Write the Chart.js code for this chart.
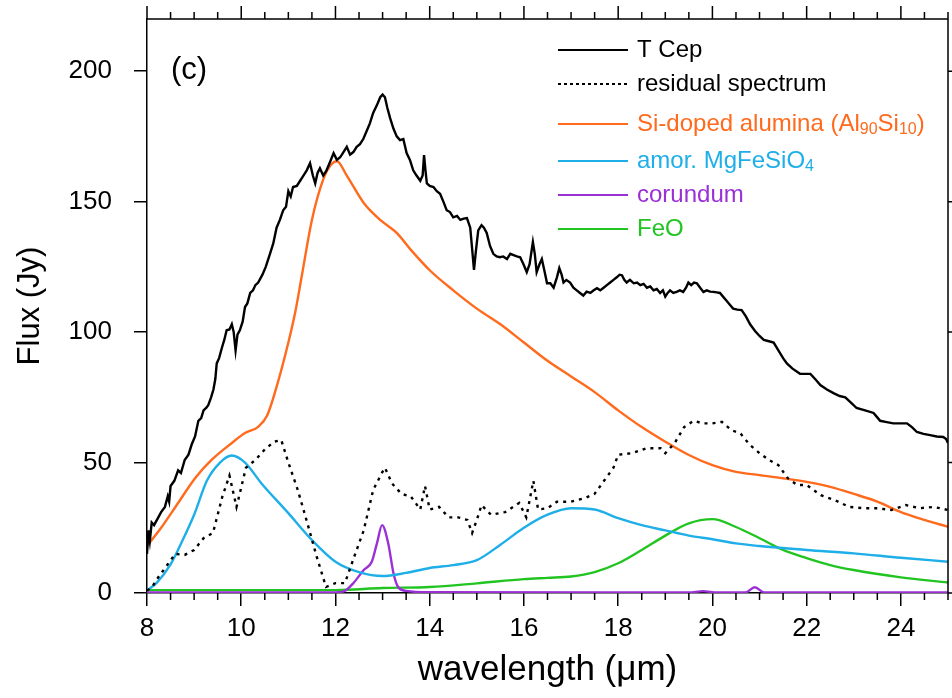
<!DOCTYPE html>
<html>
<head>
<meta charset="utf-8">
<script src="https://cdn.jsdelivr.net/npm/chart.js@4.4.1/dist/chart.umd.min.js"></script>
<style>
  html, body { margin: 0; padding: 0; background: #fff; }
  #wrap { width: 952px; height: 698px; }
</style>
</head>
<body>
<div id="wrap"><canvas id="spec" width="952" height="698"></canvas></div>
<script>
// axis ticks
const xTicks = [8, 10, 12, 14, 16, 18, 20, 22, 24];
const yTicks = [0, 50, 100, 150, 200];

// T Cep observed spectrum (Jy)
const tcepWave = [8.0,8.03,8.06,8.1,8.15,8.24,8.3,8.38,8.44,8.47,8.5,8.58,8.66,8.72,8.8,8.88,8.95,9.02,9.09,9.15,9.2,9.26,9.3,9.36,9.41,9.45,9.48,9.53,9.59,9.64,9.69,9.75,9.8,9.84,9.88,9.92,9.97,10.03,10.08,10.13,10.19,10.25,10.3,10.36,10.45,10.52,10.61,10.68,10.75,10.82,10.89,10.95,11.0,11.05,11.1,11.18,11.25,11.32,11.39,11.46,11.52,11.57,11.62,11.67,11.74,11.81,11.88,11.96,12.03,12.1,12.17,12.24,12.31,12.38,12.45,12.52,12.59,12.66,12.73,12.8,12.88,12.95,13.0,13.05,13.1,13.16,13.23,13.3,13.37,13.44,13.51,13.58,13.65,13.72,13.8,13.85,13.88,13.91,13.94,14.0,14.08,14.15,14.22,14.29,14.36,14.43,14.5,14.58,14.65,14.72,14.79,14.86,14.9,14.94,14.98,15.03,15.1,15.15,15.21,15.28,15.35,15.42,15.49,15.56,15.64,15.71,15.78,15.85,15.92,15.99,16.06,16.12,16.19,16.23,16.27,16.33,16.38,16.44,16.49,16.56,16.63,16.7,16.75,16.8,16.84,16.9,16.98,17.05,17.12,17.19,17.26,17.33,17.41,17.48,17.55,17.62,17.69,17.76,17.83,17.9,17.97,18.03,18.08,18.13,18.18,18.25,18.33,18.4,18.47,18.54,18.61,18.68,18.75,18.82,18.89,18.95,19.0,19.05,19.1,19.17,19.24,19.31,19.38,19.44,19.49,19.55,19.61,19.67,19.74,19.81,19.88,19.95,20.02,20.09,20.16,20.23,20.3,20.37,20.44,20.53,20.62,20.71,20.8,20.9,21.0,21.09,21.2,21.3,21.4,21.5,21.58,21.7,21.86,21.97,22.08,22.18,22.29,22.43,22.57,22.7,22.82,22.94,23.06,23.24,23.42,23.49,23.56,23.7,23.84,24.0,24.13,24.24,24.34,24.48,24.62,24.76,24.9,24.96,25.0];
const tcepFlux = [15,24,20,27,26,29,31,33,37,35,41,43,47,46,51,53,57,60,66,67,70,71,72,75,78,82,88,90,94,97,100.7,101,103,100,93,99,100.7,104,109.6,111,115,116,118,119,122,125,130,134,140,143,146.7,148,154,152,155.6,156,158,160,162,164.7,160,157,161,162.8,160,162,165,168.6,166,167,169,171,168,169,171,172,174,177,180,184,187,190,191,190,186,182,178,175,173.6,174,168.6,166,162,160,158,160,167.8,162,157,156,155.6,154,153,150,146.7,146,144,144.5,143,143.5,143.7,140,132,123.8,131,139,141,140,138,133,130,129,128.7,129,128,130,129.5,129,128.7,126,123,126,134.5,130,123,126,128,123,118.7,118.7,117,121,124.5,122,119,120,119,117,116,115,114,115.5,115,116,116.8,116,117,118,119,120,121,122,121.8,120,119,120,118.7,119,118,118.5,117,117.5,116,116.5,115,116,113.6,115,116,115,115.4,116,115.4,117,119,118,119,118.7,117,115.4,116,115.5,115.4,115.2,115,113.5,112,110.5,109,108.6,108.4,106,103,100.5,98.5,97,96.5,96,93,90,88,86,84,84,84,82,79.7,78,76.6,75.5,75,73,70.9,70,69,67.5,66,65.5,65,65,65,63.5,61.7,61,60.5,60,59.8,59,57.5];

// residual spectrum (Jy)
const resWave = [8.0,8.1,8.2,8.4,8.6,8.8,9.0,9.2,9.4,9.6,9.75,9.9,10.1,10.3,10.5,10.7,10.85,11.0,11.2,11.4,11.6,11.8,12.0,12.2,12.4,12.6,12.8,13.0,13.05,13.2,13.4,13.6,13.8,13.9,14.0,14.2,14.4,14.6,14.8,14.9,15.0,15.1,15.3,15.6,15.9,16.05,16.2,16.3,16.5,16.7,17.0,17.3,17.5,17.7,17.9,18.0,18.3,18.6,18.9,19.0,19.2,19.4,19.6,19.8,20.0,20.2,20.4,20.6,20.8,21.0,21.2,21.4,21.6,21.8,22.0,22.3,22.6,22.9,23.2,23.5,23.8,24.1,24.4,24.7,25.0];
const resFlux = [1,2,5,10,15,14.6,16.5,21,23,37,45,33,48,51,55,58,58.6,50,39.5,27,14,2.3,3.8,3.8,14,24,39.5,46.5,48,42,38,37,32,41,32,33,29,29,28,23,28,33.7,30,31,34.5,29,43,32,32.5,35,35,36.4,38,43,48,53,53.6,55.5,55.5,53.6,57.5,63.6,66,65,65,65.6,62.5,61,56.7,53.6,51,49,44,41.4,41.4,37.5,35.6,33,32.5,32.5,31.8,33.7,32.5,33,31.8];

// Si-doped alumina (Al90Si10)
const aluWave = [8,8.3,8.66,9.02,9.37,9.8,10.08,10.36,10.55,10.75,11.0,11.15,11.28,11.5,11.75,11.9,12.03,12.24,12.6,12.95,13.3,13.6,14,14.5,15,15.5,16,16.5,17,17.5,18,18.5,19,19.5,20,20.5,21,21.5,22,22.5,23,23.5,24,24.5,25];
const aluFlux = [18,25,34.5,44,51,57.5,61.3,63.7,68,79,96,108,121,143,159,164,165.5,160,149.5,143,138,131.5,123.7,116,109,103,96,89,83,77,70,63.6,58,52.9,49,46.4,45.2,44,42.6,40.7,38,35,31,28,25.4];

// amorphous MgFeSiO4
const silWave = [8,8.2,8.5,8.75,9,9.27,9.55,9.8,10.08,10.43,11,11.5,12,12.5,13,13.5,14,14.5,15,15.5,16,16.5,17,17.5,18,18.5,19,19.5,20,20.5,21,22,23,24,25];
const silFlux = [1,3.8,11,20,30,43,50,52.7,50,42,30.6,20.3,12,8,6.5,7.7,9.6,10.7,12.6,18.5,25,30,32.5,32,28.7,26,24,22,20.6,19,18,16.5,15.2,13.5,12];

// corundum
const corWave = [8,12.0,12.2,12.38,12.6,12.77,12.88,12.99,13.12,13.23,13.33,13.5,14,19.5,19.8,20.1,20.7,20.9,21.1,25];
const corFlux = [0.2,0.2,0.8,3.8,8.8,12,19,26,19,7.7,2.3,0.8,0.3,0.2,0.7,0.2,0.2,2.2,0.2,0.2];

// FeO
const feoWave = [8,12,13,14,15,16,16.5,17,17.5,18,18.5,19,19.5,20,20.5,21,21.5,22,22.5,23,24,25];
const feoFlux = [1.1,1.1,1.9,2.3,3.7,5.3,5.8,6.3,8,11.4,16.5,22,26.7,28.3,25.3,21,16.5,13.4,10.7,8.8,6,4];

const seriesNames = ['T Cep', 'residual spectrum', 'Si-doped alumina (Al_{90}Si_{10})', 'amor. MgFeSiO_{4}', 'corundum', 'FeO'];
const seriesColors = ['#000000', '#000000', '#ff6a1c', '#1eaee8', '#9a30d6', '#22c422'];

const FONT = '"Liberation Sans", Arial, Helvetica, sans-serif';

function pts(xs, ys) {
    return xs.map((x, i) => ({ x: x, y: ys[i] }));
}

function lineSet(i, xs, ys, extra) {
    return Object.assign({
        label: seriesNames[i],
        data: pts(xs, ys),
        borderColor: seriesColors[i],
        backgroundColor: seriesColors[i],
        borderWidth: 2.4,
        pointRadius: 0,
        fill: false,
        tension: 0
    }, extra || {});
}

// box on top / right, minor ticks, mirrored ticks, x tick labels
const framePlugin = {
    id: 'frame',
    afterDraw(chart) {
        const { ctx, chartArea: a, scales } = chart;
        ctx.save();
        ctx.strokeStyle = '#000';
        ctx.lineWidth = 1.5;
        ctx.beginPath();
        ctx.moveTo(a.left, a.top); ctx.lineTo(a.right, a.top);
        ctx.moveTo(a.right, a.top); ctx.lineTo(a.right, a.bottom);
        // minor every 0.5, major every 2
        for (let v = 8; v <= 25.001; v += 0.5) {
            const px = scales.x.getPixelForValue(v);
            const major = Math.abs(v / 2 - Math.round(v / 2)) < 1e-6;
            const len = major ? 13 : 7;
            ctx.moveTo(px, a.top); ctx.lineTo(px, a.top - len);
            if (!major) { ctx.moveTo(px, a.bottom); ctx.lineTo(px, a.bottom + len); }
        }
        yTicks.forEach(v => {
            const py = scales.y.getPixelForValue(v);
            ctx.moveTo(a.right, py); ctx.lineTo(a.right + 13, py);
        });
        ctx.stroke();

        ctx.fillStyle = '#000';
        ctx.font = '26px ' + FONT;
        ctx.textAlign = 'center';
        ctx.textBaseline = 'middle';
        xTicks.forEach(v => {
            ctx.fillText(String(v), scales.x.getPixelForValue(v), a.bottom + 36);
        });
        ctx.restore();
    }
};

function drawRich(ctx, text, x, y, size) {
    const parts = text.split(/_\{(.*?)\}/);
    parts.forEach((p, i) => {
        if (!p) return;
        const sub = i % 2 === 1;
        ctx.font = (sub ? Math.round(size * 0.68) : size) + 'px ' + FONT;
        ctx.fillText(p, x, sub ? y + size * 0.22 : y);
        x += ctx.measureText(p).width;
    });
}

const legendPlugin = {
    id: 'inlegend',
    afterDraw(chart) {
        const ctx = chart.ctx;
        const rows = [50, 84, 124, 161, 195, 229];
        ctx.save();
        ctx.textBaseline = 'middle';
        ctx.textAlign = 'left';
        seriesNames.forEach((name, i) => {
            const y = rows[i];
            ctx.strokeStyle = seriesColors[i];
            ctx.lineWidth = 1.8;
            ctx.setLineDash(i === 1 ? [3, 3] : []);
            ctx.beginPath();
            ctx.moveTo(558, y); ctx.lineTo(628, y);
            ctx.stroke();
            ctx.fillStyle = seriesColors[i];
            drawRich(ctx, name, 637, y, 24);
        });
        ctx.setLineDash([]);
        ctx.fillStyle = '#000';
        ctx.font = '31px ' + FONT;
        ctx.fillText('(c)', 171, 70);
        ctx.restore();
    }
};

new Chart(document.getElementById('spec'), {
    type: 'line',
    data: {
        datasets: [
            lineSet(0, tcepWave, tcepFlux, { order: 1 }),
            lineSet(1, resWave, resFlux, { order: 2, borderDash: [3, 5], borderWidth: 2.4 }),
            lineSet(2, aluWave, aluFlux, { order: 3, cubicInterpolationMode: 'monotone' }),
            lineSet(3, silWave, silFlux, { order: 4, cubicInterpolationMode: 'monotone' }),
            lineSet(4, corWave, corFlux, { order: 5, cubicInterpolationMode: 'monotone' }),
            lineSet(5, feoWave, feoFlux, { order: 6, cubicInterpolationMode: 'monotone' })
        ]
    },
    options: {
        responsive: false,
        animation: false,
        layout: { padding: { left: 0, top: 19, right: 4, bottom: 0 } },
        plugins: { legend: { display: false }, tooltip: { enabled: false } },
        scales: {
            x: {
                type: 'linear', min: 8, max: 25, position: 'bottom',
                afterBuildTicks: s => { s.ticks = xTicks.map(v => ({ value: v })); },
                afterFit: s => { s.height = 105; s.paddingLeft = 0; s.paddingRight = 0; },
                grid: { drawOnChartArea: false, drawTicks: true, tickLength: 13, color: '#000', lineWidth: 1.5 },
                border: { display: true, color: '#000', width: 1.5 },
                ticks: { display: false },
                title: { display: true, text: 'wavelength (\u03bcm)', color: '#000', font: { size: 35, family: FONT }, padding: { top: 0, bottom: 7 } }
            },
            y: {
                type: 'linear', min: 0, max: 220, position: 'left',
                afterBuildTicks: s => { s.ticks = yTicks.map(v => ({ value: v })); },
                afterFit: s => { s.width = 147; s.paddingTop = 0; s.paddingBottom = 0; },
                grid: { drawOnChartArea: false, drawTicks: true, tickLength: 13, color: '#000', lineWidth: 1.5 },
                border: { display: true, color: '#000', width: 1.5 },
                ticks: { color: '#000', font: { size: 26, family: FONT }, padding: 22 },
                title: { display: true, text: 'Flux (Jy)', color: '#000', font: { size: 31, family: FONT }, padding: { top: 12, bottom: 0 } }
            }
        }
    },
    plugins: [framePlugin, legendPlugin]
});
</script>
</body>
</html>
